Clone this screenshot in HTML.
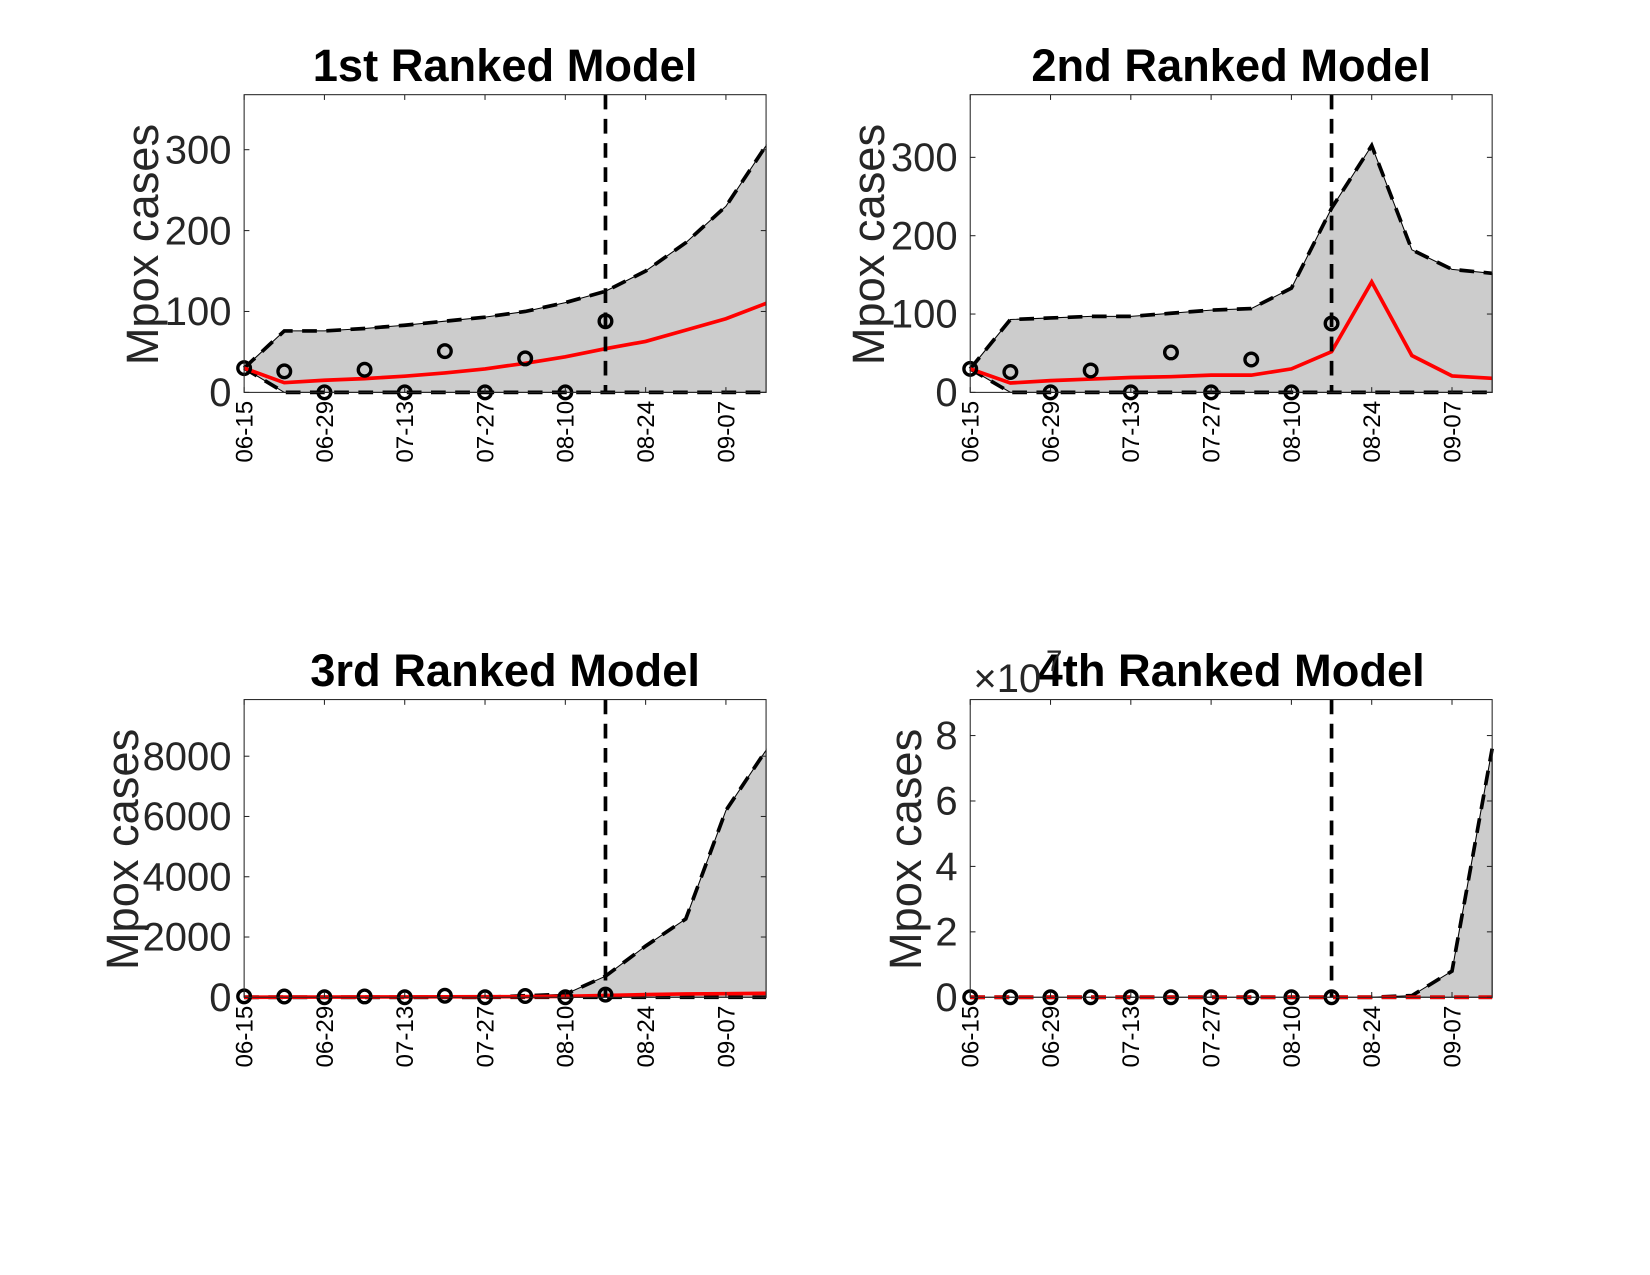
<!DOCTYPE html>
<html><head><meta charset="utf-8">
<style>
html,body{margin:0;padding:0;background:#fff;}
svg{display:block;}
text{font-family:"Liberation Sans",Arial,sans-serif;}
</style></head>
<body>
<svg id="fig" width="1650" height="1275" viewBox="0 0 1568 1212" preserveAspectRatio="none"></svg>
<script>
const dateLabels = ["06-15","06-29","07-13","07-27","08-10","08-24","09-07"];
const weeks = [0,7,14,21,28,35,42,49,56,63,70,77,84,91];
const obsDays = [0,7,14,21,28,35,42,49,56,63];
const cutoffDay = 63;

const p1Upper = [30,76,76,79,83,88,93,100,111,125,150,185,230,305];
const p1Lower = [30,0,0,0,0,0,0,0,0,0,0,0,0,0];
const p1Mean  = [30,12,15,17,20,24,29,36,44,54,63,77,91,110];
const p1Obs   = [30,26,0,28,0,51,0,42,0,88];
const p1Ticks = [0,100,200,300];

const p2Upper = [30,93,95,97,97,101,105,107,133,235,315,182,157,152];
const p2Lower = [30,0,0,0,0,0,0,0,0,0,0,0,0,0];
const p2Mean  = [30,12,15,17,19,20,22,22,30,52,141,47,21,18];
const p2Obs   = [30,26,0,28,0,51,0,42,0,88];
const p2Ticks = [0,100,200,300];

const p3Upper = [0,0,0,0,0,0,0,50,100,700,1700,2600,6200,8200];
const p3Lower = [0,0,0,0,0,0,0,0,0,0,0,0,0,0];
const p3Mean  = [0,5,8,10,12,15,18,22,30,60,90,110,120,130];
const p3Obs   = [30,26,0,28,0,51,0,42,0,88];
const p3Ticks = [0,2000,4000,6000,8000];

const p4Upper = [0,0,0,0,0,0,0,0,0,0,0,0.05,0.8,7.6];
const p4Lower = [0,0,0,0,0,0,0,0,0,0,0,0,0,0];
const p4Mean  = [0,0,0,0,0,0,0,0,0,0,0,0,0,0];
const p4Obs   = [0,0,0,0,0,0,0,0,0,0];
const p4Ticks = [0,2,4,6,8];

const NS="http://www.w3.org/2000/svg";
const svg=document.getElementById('fig');
function mk(tag,attrs,parent){const e=document.createElementNS(NS,tag);for(const k in attrs)e.setAttribute(k,attrs[k]);(parent||svg).appendChild(e);return e;}

const panels=[
 {title:"1st Ranked Model",x0:232,y0:90,up:p1Upper,lo:p1Lower,mean:p1Mean,obs:p1Obs,ticks:p1Ticks,ymax:368,ylx:135,exp:false},
 {title:"2nd Ranked Model",x0:922,y0:90,up:p2Upper,lo:p2Lower,mean:p2Mean,obs:p2Obs,ticks:p2Ticks,ymax:380,ylx:825,exp:false},
 {title:"3rd Ranked Model",x0:232,y0:665,up:p3Upper,lo:p3Lower,mean:p3Mean,obs:p3Obs,ticks:p3Ticks,ymax:9880,ylx:116,exp:false},
 {title:"4th Ranked Model",x0:922,y0:665,up:p4Upper,lo:p4Lower,mean:p4Mean,obs:p4Obs,ticks:p4Ticks,ymax:9.1,ylx:860,exp:true}
];
const W=496,H=283,DAYS=91;

panels.forEach((p,i)=>{
  const g=mk('g',{});
  
  
  const xs=d=>p.x0+d/DAYS*W;
  const ys=v=>p.y0+H-v/p.ymax*H;
  let pts=weeks.map((d,k)=>xs(d)+','+ys(p.up[k]));
  for(let k=weeks.length-1;k>=0;k--)pts.push(xs(weeks[k])+','+ys(p.lo[k]));
  const band=mk('polygon',{points:pts.join(' '),fill:'#cccccc',stroke:'#000','stroke-width':1},g);
  
  
  const upl=mk('polyline',{points:weeks.map((d,k)=>xs(d)+','+ys(p.up[k])).join(' '),fill:'none',stroke:'#000','stroke-width':3.5,'stroke-dasharray':'14,9'},g);
  
  
  const lol=mk('polyline',{points:weeks.map((d,k)=>xs(d)+','+ys(p.lo[k])).join(' '),fill:'none',stroke:'#000','stroke-width':3.5,'stroke-dasharray':'14,9'},g);
  
  
  const ml=mk('polyline',{points:weeks.map((d,k)=>xs(d)+','+ys(p.mean[k])).join(' '),fill:'none',stroke:'#ff0000','stroke-width':3.5},g);
  
  
  if(p.exp){ml.setAttribute('stroke-dasharray','14,9');}
  const vl=mk('line',{x1:xs(cutoffDay),x2:xs(cutoffDay),y1:p.y0,y2:p.y0+H,stroke:'#000','stroke-width':3.5,'stroke-dasharray':'14,9'},g);
  
  
  p.obs.forEach((v,k)=>{
    const c=mk('circle',{cx:xs(obsDays[k]),cy:ys(v),r:6,fill:'none',stroke:'#000','stroke-width':3.2},g);
    
    
  });
  const box=mk('rect',{x:p.x0,y:p.y0,width:W,height:H,fill:'none',stroke:'#262626','stroke-width':1},g);
  
  
  dateLabels.forEach((lab,k)=>{
    const x=xs(k*14);
    mk('line',{x1:x,x2:x,y1:p.y0,y2:p.y0+5,stroke:'#262626'},g);
    mk('line',{x1:x,x2:x,y1:p.y0+H,y2:p.y0+H-5,stroke:'#262626'},g);
    const t=mk('text',{x:0,y:0,transform:`translate(${x+8},${p.y0+H+8}) rotate(-90)`,'text-anchor':'end','font-size':23,fill:'#000'},g);
    t.textContent=lab;
    
    
  });
  p.ticks.forEach(v=>{
    const y=ys(v);
    mk('line',{x1:p.x0,x2:p.x0+5,y1:y,y2:y,stroke:'#262626'},g);
    mk('line',{x1:p.x0+W,x2:p.x0+W-5,y1:y,y2:y,stroke:'#262626'},g);
    const t=mk('text',{x:p.x0-12,y:y+13,'text-anchor':'end','font-size':38,fill:'#262626'},g);
    t.textContent=String(v);
    
    
  });
  const yl=mk('text',{x:0,y:0,transform:`translate(${p.ylx+15},${p.y0+H/2+1}) rotate(-90)`,'text-anchor':'middle','font-size':43,fill:'#262626'},g);
  yl.textContent='Mpox cases';
  
  
  const tt=mk('text',{x:p.x0+W/2,y:p.y0-13,'text-anchor':'middle','font-size':43,'font-weight':'bold',fill:'#000'},g);
  tt.textContent=p.title;
  
  
  if(p.exp){
    const e=mk('text',{x:p.x0+3,y:p.y0-7,'font-size':38,fill:'#262626'},g);
    e.textContent='×10';
    
    
    const e2=mk('text',{x:p.x0+72,y:p.y0-27,'font-size':28,fill:'#262626'},g);
    e2.textContent='7';
    
    
  }
});
</script>
</body></html>
